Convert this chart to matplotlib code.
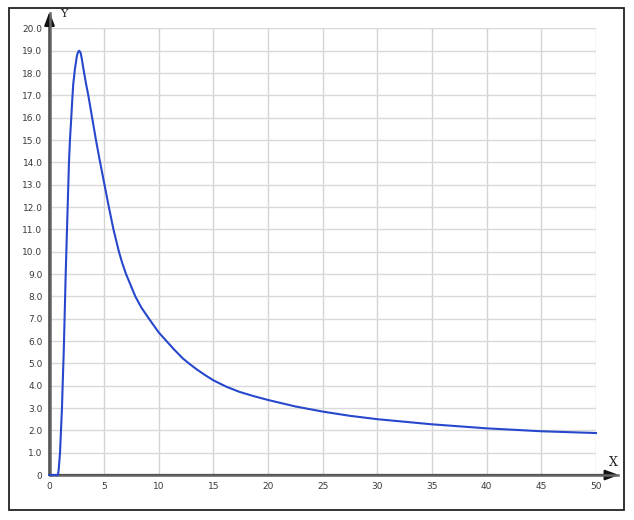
import matplotlib
matplotlib.use("Agg")
import matplotlib.pyplot as plt
from matplotlib.patches import Rectangle

# valores
x_vals = [0, 0.75, 0.8, 0.85, 0.96, 1.05, 1.14, 1.2, 1.3, 1.42, 1.48, 1.54, 1.6, 1.66,
          1.72, 1.78, 1.87, 1.99, 2.08, 2.17, 2.33, 2.5, 2.6, 2.72, 2.85, 2.95, 3.05,
          3.15, 3.35, 3.55, 3.9, 4.25, 4.63, 5.03, 5.43, 5.85, 6.35, 6.65, 7.0, 7.85,
          8.4, 9.1, 10, 10.7, 11.4, 12.2, 12.85, 13.5, 14.25, 15, 16.2, 17.4, 18.7, 20,
          22.5, 25, 27.5, 30, 35, 40, 45, 50]
y_vals = [0, 0, 0.08, 0.3, 1.0, 2.0, 3.0, 4.0, 5.5, 7.8, 9.0, 10.0, 11.0, 12.0,
          13.0, 14.0, 15.0, 16.0, 16.8, 17.5, 18.2, 18.75, 18.93, 19.0, 18.9, 18.65, 18.35,
          18.05, 17.5, 17.0, 16.0, 15.0, 14.0, 13.0, 12.0, 11.0, 10.0, 9.5, 9.0, 8.0,
          7.5, 7.0, 6.38, 6.0, 5.62, 5.22, 4.96, 4.72, 4.47, 4.24, 3.95, 3.72, 3.53, 3.36,
          3.07, 2.84, 2.65, 2.5, 2.27, 2.09, 1.96, 1.88]

x_ticks = [0, 5, 10, 15, 20, 25, 30, 35, 40, 45, 50]
y_ticks = list(range(0, 21))
y_labels = ["0"] + [f"{v:.1f}" for v in y_ticks[1:]]

fig = plt.figure(figsize=(6.34, 5.2), dpi=100)
ax = fig.add_axes([0.0781, 0.0865, 0.940 - 0.0781, 0.9454 - 0.0865])

# marco exterior
fig.patches.append(Rectangle((9 / 634, 1 - 510 / 520), 615 / 634, 502 / 520,
                             transform=fig.transFigure, fill=False,
                             edgecolor="#222222", linewidth=1.3))

ax.set_xlim(0, 50)
ax.set_ylim(0, 20)
for s in ax.spines.values():
    s.set_visible(False)

# rejilla
for xt in x_ticks:
    ax.plot([xt, xt], [0, 20], color="#d4d4d4", lw=1.0, zorder=1)
for yt in y_ticks:
    ax.plot([0, 50], [yt, yt], color="#d9d9d9", lw=1.0, zorder=1)

ax.set_xticks(x_ticks)
ax.set_xticklabels([str(v) for v in x_ticks])
ax.set_yticks(y_ticks)
ax.set_yticklabels(y_labels)
ax.tick_params(length=0, labelsize=6.5, labelcolor="#3a3a3a", pad=5)

# ejes con flechas
flecha = dict(arrowstyle="-|>,head_length=0.8,head_width=0.3",
              color="#111111", lw=1.6, shrinkA=0, shrinkB=0)
ax.annotate("", xy=(52.1, 0), xytext=(0, 0), annotation_clip=False,
            arrowprops=flecha, zorder=3)
ax.annotate("", xy=(0, 20.75), xytext=(0, 0), annotation_clip=False,
            arrowprops=flecha, zorder=3)
ax.plot([0, 52], [0, 0], color="#666666", lw=1.8, zorder=3, clip_on=False)
ax.plot([0, 0], [0, 20.7], color="#666666", lw=1.8, zorder=3, clip_on=False)

ax.text(51.55, 0.55, "X", fontsize=9, family="DejaVu Serif", color="#222222",
        ha="center", va="center", clip_on=False)
ax.text(1.3, 20.66, "Y", fontsize=8, family="DejaVu Serif", color="#222222",
        ha="center", va="center", clip_on=False)

# curva
ax.plot(x_vals, y_vals, color="#2747cc", lw=1.5, zorder=4, clip_on=False,
        solid_joinstyle="round")

fig.savefig("out.png", dpi=100)
